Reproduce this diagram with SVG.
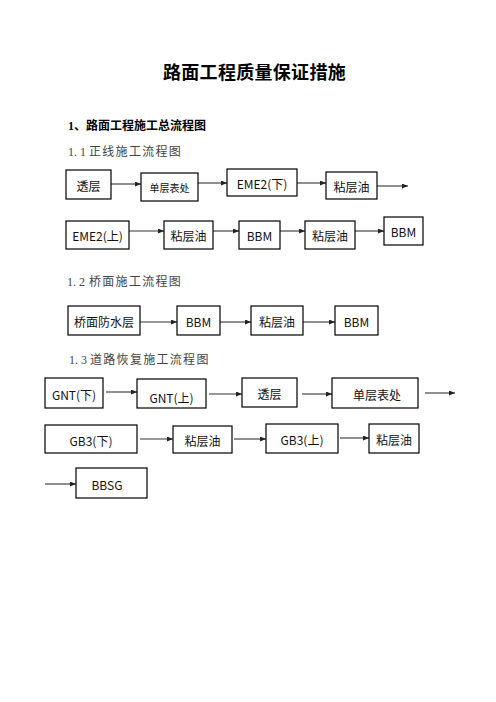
<svg xmlns="http://www.w3.org/2000/svg" width="496" height="702" viewBox="0 0 496 702">
<defs>
<style>
.bg{fill:#ffffff}
.box rect{fill:#ffffff;stroke:#000000;stroke-width:1.2}
.box text{font-family:"Noto Sans CJK SC","Noto Sans",sans-serif;font-size:12px;fill:#111111;text-anchor:middle;dominant-baseline:central}
.box text.sm{font-size:10px}
.conn line{stroke:#333333;stroke-width:1.1;marker-end:url(#ah)}
.title{font-family:"Noto Sans CJK SC",sans-serif;font-size:18px;font-weight:bold;fill:#000000;text-anchor:middle;letter-spacing:0.3px}
.h1{font-family:"Liberation Serif","Noto Sans CJK SC",serif;font-size:12px;font-weight:bold;fill:#000000}
.h2{font-family:"Liberation Serif","Noto Sans CJK SC",serif;font-size:12px;fill:#444444}
.h2 .cj{letter-spacing:1.3px;font-family:"Noto Sans CJK SC",sans-serif}
</style>
<marker id="ah" viewBox="0 0 6 5" refX="6" refY="2.5" markerWidth="6" markerHeight="5" markerUnits="userSpaceOnUse" orient="auto">
<path d="M0,0 L6,2.5 L0,5 Z" fill="#222222"/>
</marker>
</defs>
<rect class="bg" x="0" y="0" width="496" height="702"/>

<text class="title" x="254.5" y="79">路面工程质量保证措施</text>
<text class="h1" x="68" y="130">1、<tspan font-family="Noto Sans CJK SC,sans-serif">路面工程施工总流程图</tspan></text>
<text class="h2" x="68" y="156">1. 1 <tspan class="cj" x="89">正线施工流程图</tspan></text>
<text class="h2" x="67" y="286">1. 2 <tspan class="cj" x="89">桥面施工流程图</tspan></text>
<text class="h2" x="69" y="364">1. 3 <tspan class="cj" x="90">道路恢复施工流程图</tspan></text>

<g id="connectors" class="conn">
<line x1="111" y1="184" x2="141" y2="184"/>
<line x1="198" y1="183" x2="227" y2="183"/>
<line x1="297" y1="183" x2="326" y2="183"/>
<line x1="377" y1="186" x2="408" y2="186"/>
<line x1="129" y1="231" x2="164" y2="231"/>
<line x1="213" y1="231" x2="239" y2="231"/>
<line x1="280" y1="231" x2="305" y2="231"/>
<line x1="355" y1="231" x2="384" y2="231"/>
<line x1="140" y1="322" x2="177" y2="322"/>
<line x1="220" y1="322" x2="251" y2="322"/>
<line x1="303" y1="322" x2="335" y2="322"/>
<line x1="106" y1="392" x2="137" y2="392"/>
<line x1="209" y1="394" x2="242" y2="394"/>
<line x1="302" y1="394" x2="332" y2="394"/>
<line x1="425" y1="393" x2="455" y2="393"/>
<line x1="140" y1="439" x2="173" y2="439"/>
<line x1="234" y1="439" x2="266" y2="439"/>
<line x1="340" y1="438" x2="369" y2="438"/>
<line x1="45" y1="484" x2="76" y2="484"/>
</g>

<g id="n-a1" class="box"><rect x="66" y="170" width="45" height="29"/><text x="88.5" y="185">透层</text></g>
<g id="n-a2" class="box"><rect x="141" y="173" width="57" height="28"/><text class="sm" x="169.5" y="187.5">单层表处</text></g>
<g id="n-a3" class="box"><rect x="227" y="169" width="70" height="27"/><text x="262" y="183">EME2(下)</text></g>
<g id="n-a4" class="box"><rect x="326" y="172" width="51" height="27"/><text x="351.5" y="186">粘层油</text></g>

<g id="n-b1" class="box"><rect x="66" y="221" width="63" height="28"/><text x="97.5" y="235.5">EME2(上)</text></g>
<g id="n-b2" class="box"><rect x="164" y="221" width="49" height="28"/><text x="188.5" y="235.5">粘层油</text></g>
<g id="n-b3" class="box"><rect x="239" y="221" width="41" height="28"/><text x="259.5" y="235.5">BBM</text></g>
<g id="n-b4" class="box"><rect x="305" y="221" width="50" height="28"/><text x="330" y="235.5">粘层油</text></g>
<g id="n-b5" class="box"><rect x="384" y="217" width="39" height="28"/><text x="403.5" y="231.5">BBM</text></g>

<g id="n-c1" class="box"><rect x="68" y="306" width="72" height="29"/><text x="104" y="321.5">桥面防水层</text></g>
<g id="n-c2" class="box"><rect x="177" y="306" width="43" height="29"/><text x="198.5" y="321.5">BBM</text></g>
<g id="n-c3" class="box"><rect x="251" y="306" width="52" height="29"/><text x="277" y="321.5">粘层油</text></g>
<g id="n-c4" class="box"><rect x="335" y="306" width="43" height="29"/><text x="356.5" y="321.5">BBM</text></g>

<g id="n-d1" class="box"><rect x="45" y="378" width="58" height="30"/><text x="74" y="394">GNT(下)</text></g>
<g id="n-d2" class="box"><rect x="137" y="379" width="69" height="29"/><text x="171.5" y="397">GNT(上)</text></g>
<g id="n-d3" class="box"><rect x="242" y="378" width="55" height="29"/><text x="269.5" y="393.5">透层</text></g>
<g id="n-d4" class="box"><rect x="332" y="378" width="86" height="30"/><text x="377" y="394">单层表处</text></g>

<g id="n-e1" class="box"><rect x="45" y="425" width="92" height="28"/><text x="91" y="440">GB3(下)</text></g>
<g id="n-e2" class="box"><rect x="173" y="426" width="59" height="27"/><text x="202.5" y="440.5">粘层油</text></g>
<g id="n-e3" class="box"><rect x="266" y="424" width="72" height="29"/><text x="302" y="439">GB3(上)</text></g>
<g id="n-e4" class="box"><rect x="369" y="424" width="50" height="29"/><text x="394" y="439">粘层油</text></g>

<g id="n-f1" class="box"><rect x="76" y="468" width="71" height="30"/><text x="107" y="484">BBSG</text></g>
</svg>
